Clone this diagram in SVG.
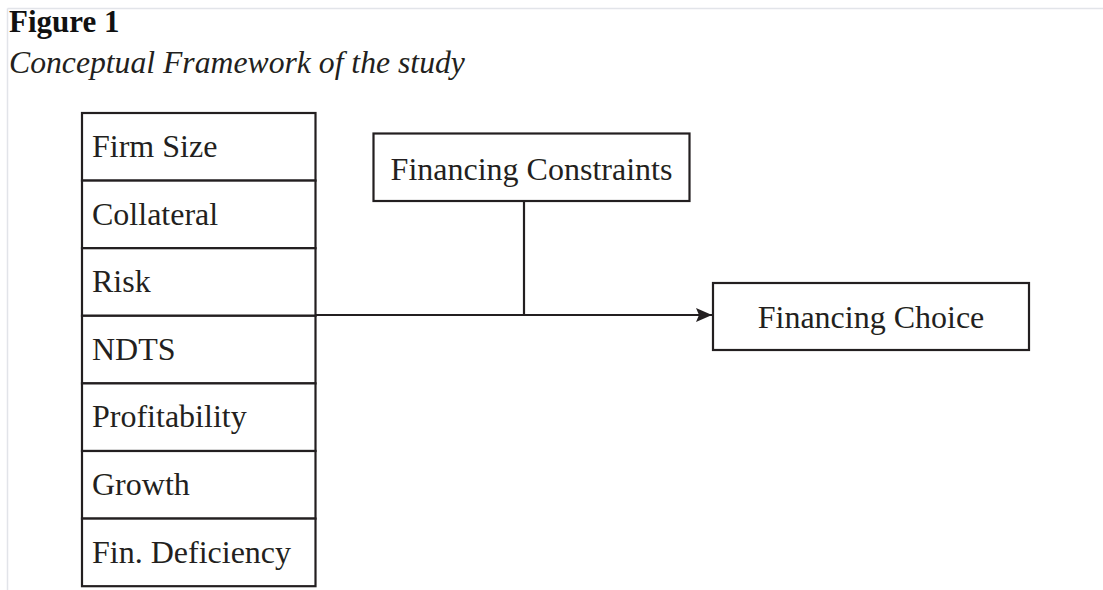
<svg xmlns="http://www.w3.org/2000/svg" width="1103" height="590" viewBox="0 0 1103 590">
<style>
.bx{fill:#fff;stroke:#231f20;stroke-width:2.2}
.t{font-family:"Liberation Serif","Times New Roman",serif;font-size:32px;fill:#231f20}
.c{stroke:#231f20;stroke-width:2.2;fill:none}
</style>
<defs>
<marker id="ah" markerUnits="userSpaceOnUse" markerWidth="17" markerHeight="14" refX="16" refY="7" orient="auto">
<path d="M0,0 L16,7 L0,14 L3,7 Z" fill="#231f20"/>
</marker>
</defs>
<rect width="1103" height="590" fill="#fff"/>
<line x1="7.5" y1="8.5" x2="1103" y2="8.5" stroke="#e2e4e9" stroke-width="1.5"/>
<line x1="7.5" y1="8.5" x2="7.5" y2="590" stroke="#e2e4e9" stroke-width="1.5"/>
<text x="9" y="32" font-family="'Liberation Serif','Times New Roman',serif" font-size="31" font-weight="bold" fill="#111">Figure 1</text>
<text x="9" y="73" font-family="'Liberation Serif','Times New Roman',serif" font-size="31.7" font-style="italic" fill="#231f20">Conceptual Framework of the study</text>
<g id="factors">
<g id="firm-size"><rect class="bx" x="82" y="113" width="233.5" height="67.6"/><text class="t" x="92" y="157">Firm Size</text></g>
<g id="collateral"><rect class="bx" x="82" y="180.6" width="233.5" height="67.6"/><text class="t" x="92" y="224.6">Collateral</text></g>
<g id="risk"><rect class="bx" x="82" y="248.2" width="233.5" height="67.6"/><text class="t" x="92" y="292.2">Risk</text></g>
<g id="ndts"><rect class="bx" x="82" y="315.8" width="233.5" height="67.6"/><text class="t" x="92" y="359.8">NDTS</text></g>
<g id="profitability"><rect class="bx" x="82" y="383.4" width="233.5" height="67.6"/><text class="t" x="92" y="427.4">Profitability</text></g>
<g id="growth"><rect class="bx" x="82" y="451" width="233.5" height="67.6"/><text class="t" x="92" y="495">Growth</text></g>
<g id="fin-deficiency"><rect class="bx" x="82" y="518.6" width="233.5" height="67.6"/><text class="t" x="92" y="562.6">Fin. Deficiency</text></g>
</g>
<g id="financing-constraints"><rect class="bx" x="373.5" y="133.5" width="316" height="67.5"/><text class="t" x="531.5" y="180" text-anchor="middle">Financing Constraints</text></g>
<g id="financing-choice"><rect class="bx" x="713" y="283" width="316" height="67"/><text class="t" x="871" y="328" text-anchor="middle">Financing Choice</text></g>
<g id="connectors">
<line class="c" x1="524" y1="201" x2="524" y2="315"/>
<line class="c" x1="315.5" y1="315" x2="712" y2="315" marker-end="url(#ah)"/>
</g>
</svg>
